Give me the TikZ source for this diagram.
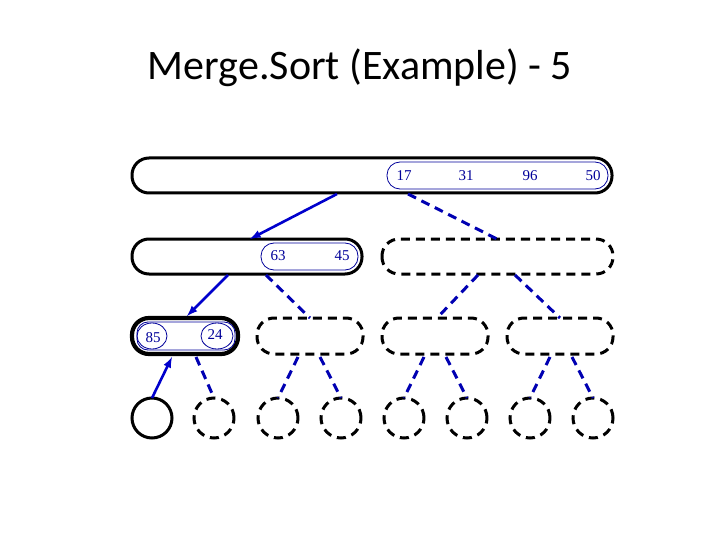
\documentclass[tikz,border=0pt]{standalone}
\usepackage{fontspec}
\setmainfont{Carlito}
\newfontfamily\numfont{Liberation Serif}
\begin{document}
\begin{tikzpicture}[x=1pt,y=-1pt,
  solidbox/.style={draw,line width=3pt,rounded corners=17pt},
  dashbox/.style={draw,line width=3pt,dash pattern=on 9pt off 6pt,rounded corners=17pt},
  inner/.style={draw=blue!60!black,line width=0.8pt,rounded corners=13pt},
  num/.style={text=blue!60!black,font=\numfont\fontsize{15}{17}\selectfont},
  arr/.style={draw=blue!80!black,line width=2.6pt,-latex},
  dl/.style={draw=blue!70!black,line width=3pt,dash pattern=on 9pt off 6pt}]
\useasboundingbox (0,0) rectangle (720,540);
\node[font=\fontsize{42}{46}\selectfont] (title) at (360,68) {Merge.Sort (Example) - 5};
% level 1
\draw[solidbox] (132,158) rectangle (612,193);
\draw[inner] (387,162) rectangle (608,189);
\node[num] (n17) at (404,176) {17};
\node[num] (n31) at (466,176) {31};
\node[num] (n96) at (530,176) {96};
\node[num] (n50) at (593,176) {50};
\coordinate (t1) at (337,194); \coordinate (t2) at (408,194);
% level 2
\draw[solidbox] (132,239) rectangle (362,274);
\draw[inner] (261,243) rectangle (358,270);
\node[num] (n63) at (278,256) {63};
\node[num] (n45) at (342,256) {45};
\draw[dashbox] (382,239) rectangle (613,274);
\coordinate (a1) at (250,239); \coordinate (a2) at (497,239);
% level 3
\draw[draw,line width=4.2pt,rounded corners=17pt] (132,318) rectangle (238,354);
\draw[inner,rounded corners=11pt] (137,322) rectangle (235,350);
\draw[blue!60!black,line width=0.8pt] (152,336) ellipse (15pt and 13pt);
\draw[blue!60!black,line width=0.8pt] (217,336) ellipse (16pt and 13pt);
\node[num] (n85) at (153,338) {85};
\node[num] (n24) at (215,335) {24};
\foreach \x in {257,382,507} \draw[dashbox] (\x,318) rectangle (\x+106,354);
% edges level1->2
\draw[arr] (t1) -- (a1);
\draw[dl] (t2) -- (a2);
\draw[arr] (228,275) -- (187,316);
\draw[dl] (266,275) -- (310,318);
\draw[dl] (478,275) -- (437,318);
\draw[dl] (515,275) -- (560,318);
% leaves
\draw[line width=3pt] (152,418) circle (20pt);
\foreach \x in {214,278,341,404,467,530,593} \draw[line width=3pt,dash pattern=on 9pt off 6pt] (\x,418) circle (20pt);
\draw[arr] (152,398) -- (172,357);
\draw[dl] (196,357) -- (214,398);
\draw[dl] (298,357) -- (278,398);
\draw[dl] (320,357) -- (341,398);
\draw[dl] (424,357) -- (404,398);
\draw[dl] (446,357) -- (467,398);
\draw[dl] (550,357) -- (530,398);
\draw[dl] (572,357) -- (593,398);
\end{tikzpicture}
\end{document}
